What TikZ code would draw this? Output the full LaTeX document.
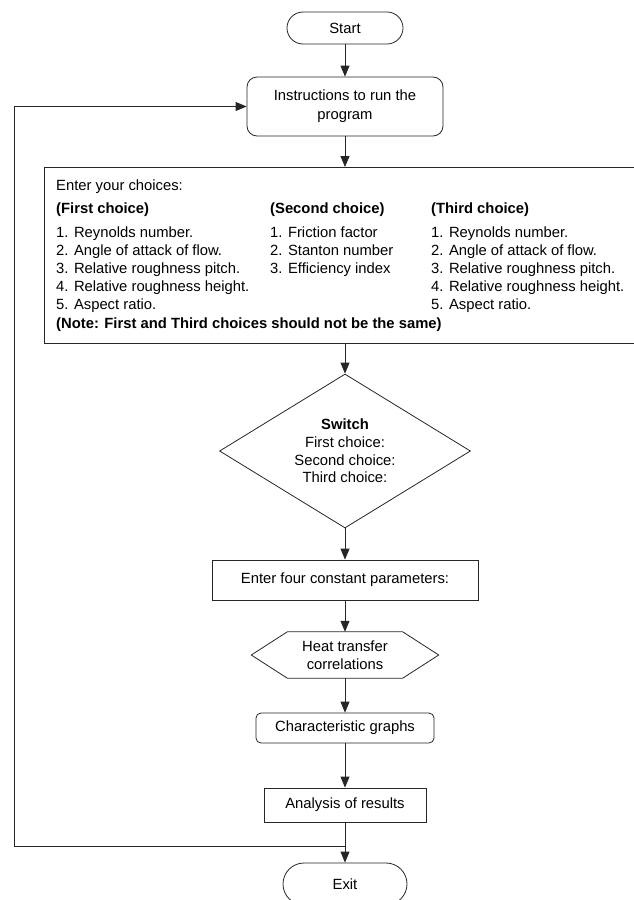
\documentclass[tikz,border=0pt]{standalone}
\usepackage{fontspec}
\setmainfont{Liberation Sans}
\usetikzlibrary{shapes.geometric,shapes.misc,arrows.meta}
\begin{document}
\begin{tikzpicture}[x=1pt,y=-1pt,
  every node/.style={font=\fontsize{14.8}{17.7}\selectfont},
  line/.style={draw=black!85, line width=0.8pt},
  arr/.style={line, -{Triangle[length=11pt,width=9pt]}},
  term/.style={rounded rectangle, draw=black!85, line width=0.8pt, inner sep=0pt},
  proc/.style={rectangle, draw=black!85, line width=0.8pt, inner sep=0pt, align=center},
  txt/.style={inner sep=0pt, anchor=base west},
  btxt/.style={txt, font=\fontsize{14.8}{17.7}\selectfont\bfseries}]
\useasboundingbox (0,0) rectangle (634,900);
\clip (0,0) rectangle (634,900);

\node[term, minimum width=116pt, minimum height=32pt] (start) at (345,28) {Start};
\node[proc, rounded corners=10pt, minimum width=196pt, minimum height=59pt,
      font=\fontsize{14.8}{19}\selectfont] (instr) at (345,106.5) {Instructions to run the\\program};

\node[proc, minimum width=600pt, minimum height=176pt, anchor=north west] (choices) at (44,167) {};
\node[txt] (t0) at (56,190) {Enter your choices:};
\node[btxt] (h1) at (56,213) {(First choice)};
\node[btxt] (h2) at (270,213) {(Second choice)};
\node[btxt] (h3) at (431,213) {(Third choice)};
\node[txt] (a1) at (56,237.5) {1. Reynolds number.};
\node[txt] (a2) at (56,255.5) {2. Angle of attack of flow.};
\node[txt] (a3) at (56,273.5) {3. Relative roughness pitch.};
\node[txt] (a4) at (56,291.5) {4. Relative roughness height.};
\node[txt] (a5) at (56,309.5) {5. Aspect ratio.};
\node[txt] (b1) at (270,237.5) {1. Friction factor};
\node[txt] (b2) at (270,255.5) {2. Stanton number};
\node[txt] (b3) at (270,273.5) {3. Efficiency index};
\node[txt] (c1) at (431,237.5) {1. Reynolds number.};
\node[txt] (c2) at (431,255.5) {2. Angle of attack of flow.};
\node[txt] (c3) at (431,273.5) {3. Relative roughness pitch.};
\node[txt] (c4) at (431,291.5) {4. Relative roughness height.};
\node[txt] (c5) at (431,309.5) {5. Aspect ratio.};
\node[btxt] (note) at (56,328) {(Note: First and Third choices should not be the same)};

\node[diamond, draw=black!85, line width=0.8pt, inner sep=0pt, aspect=1.63, align=center,
      minimum width=251pt, minimum height=154pt] (sw) at (345,451)
      {\textbf{Switch}\\First choice:\\Second choice:\\Third choice:};

\node[proc, minimum width=266pt, minimum height=40pt] (const) at (345,580) {Enter four constant parameters:};

\node[inner sep=0pt, minimum width=187pt, minimum height=46pt, align=center] (hex) at (345,655)
      {Heat transfer\\correlations};
\draw[line] (hex.west) -- ([xshift=36pt]hex.north west) -- ([xshift=-36pt]hex.north east)
  -- (hex.east) -- ([xshift=-36pt]hex.south east) -- ([xshift=36pt]hex.south west) -- cycle;

\node[proc, rounded corners=5pt, minimum width=178pt, minimum height=30pt] (graphs) at (345,728) {Characteristic graphs};
\node[proc, minimum width=162pt, minimum height=34pt] (anal) at (345,805) {Analysis of results};
\node[term, minimum width=124pt, minimum height=42pt] (exit) at (345,884) {Exit};

\coordinate (j) at (345,846);
\coordinate (l1) at (14,846);
\coordinate (l2) at (14,106.5);

\draw[arr] (start.south) -- (instr.north);
\draw[arr] (instr.south) -- (instr.south |- choices.north);
\draw[arr] (instr.south |- choices.south) -- (sw.north);
\draw[arr] (sw.south) -- (const.north);
\draw[arr] (const.south) -- (hex.north);
\draw[arr] (hex.south) -- (graphs.north);
\draw[arr] (graphs.south) -- (anal.north);
\draw[arr] (anal.south) -- (exit.north);
\draw[arr] (j) -- (l1) -- (l2) -- (instr.west);
\end{tikzpicture}
\end{document}
